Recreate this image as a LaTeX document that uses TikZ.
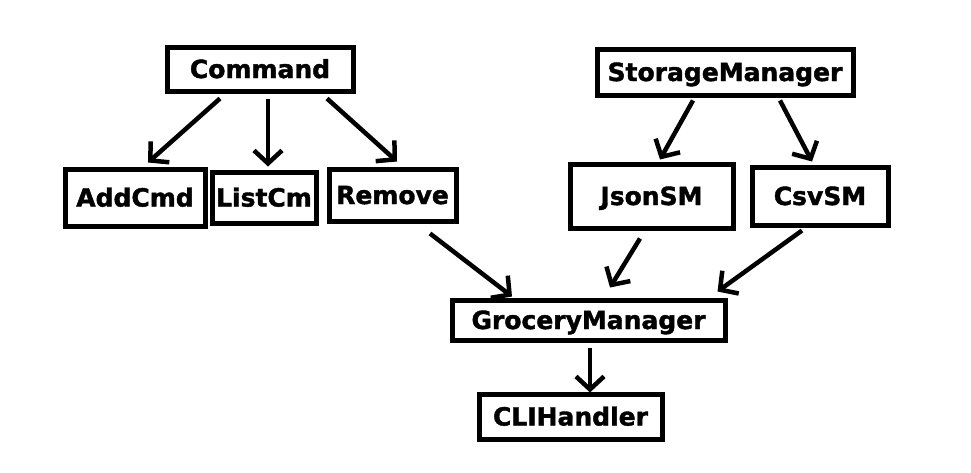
\documentclass[tikz,border=0pt]{standalone}
\usepackage{fontspec}
\setmainfont{DejaVu Sans}[BoldFeatures={FakeBold=1.6}]
\usetikzlibrary{arrows.meta}

\tikzset{
    box/.style={draw, line width=5pt, inner sep=0pt, text height=18pt, text depth=0pt,
        font=\fontsize{25}{30}\selectfont\bfseries},
    arr/.style={line width=4.5pt, -{Straight Barb[length=13pt, width=28pt]}}
}

\begin{document}
\begin{tikzpicture}[x=1pt, y=-1pt]

\useasboundingbox (0,0) rectangle (971,472);

% top left
\node[box, minimum width=186pt, minimum height=44pt] (cmd) at (260,69) {Command};
\node[box, minimum width=140pt, minimum height=57pt] (add) at (135,197.5) {AddCmd};
\node[box, minimum width=104pt, minimum height=51pt] (list) at (264,197.5) {ListCm};
\node[box, minimum width=127pt, minimum height=52pt] (remove) at (392.5,195) {Remove};

% top right
\node[box, minimum width=256pt, minimum height=46pt] (storage) at (725,72) {StorageManager};
\node[box, minimum width=163pt, minimum height=64pt] (json) at (651.5,196) {JsonSM};
\node[box, minimum width=136pt, minimum height=58pt] (csv) at (820,196) {CsvSM};

% bottom
\node[box, minimum width=273pt, minimum height=40pt] (grocery) at (588.5,320) {GroceryManager};
\node[box, minimum width=183pt, minimum height=45pt] (cli) at (570.5,416.5) {CLIHandler};

% arrows
\draw[arr] ([xshift=-40pt, yshift=-5pt] cmd.south) -- ([xshift=13pt, yshift=4pt] add.north);
\draw[arr] ([xshift=8pt, yshift=-5pt] cmd.south) -- ([xshift=4pt, yshift=3pt] list.north);
\draw[arr] ([xshift=67pt, yshift=-5pt] cmd.south) -- ([xshift=4.5pt, yshift=5pt] remove.north);

\draw[arr] ([xshift=-32pt, yshift=-3pt] storage.south) -- ([xshift=8.5pt, yshift=2pt] json.north);
\draw[arr] ([xshift=55pt, yshift=-3pt] storage.south) -- ([xshift=-8pt, yshift=3pt] csv.north);

\draw[arr] ([xshift=37.5pt, yshift=-10pt] remove.south) -- ([xshift=-76.5pt, yshift=1pt] grocery.north);
\draw[arr] ([xshift=-11.5pt, yshift=-8pt] json.south) -- ([xshift=21.5pt, yshift=10pt] grocery.north);
\draw[arr] ([xshift=-18pt, yshift=-3pt] csv.south) -- ([xshift=-10pt, yshift=6pt] grocery.north east);

\draw[arr] ([xshift=1.5pt, yshift=-5pt] grocery.south) -- ([xshift=19.5pt, yshift=-1pt] cli.north);

\end{tikzpicture}
\end{document}
